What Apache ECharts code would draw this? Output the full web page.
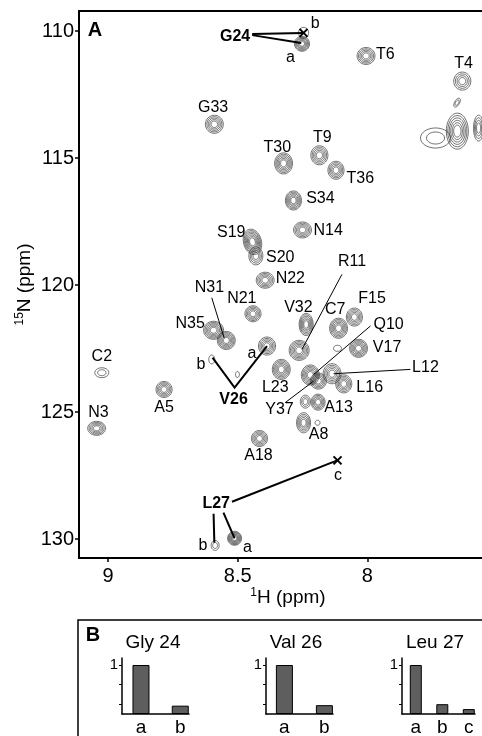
<!DOCTYPE html>
<html>
<head>
<meta charset="utf-8">
<script src="https://cdn.jsdelivr.net/npm/echarts@6/dist/echarts.min.js"></script>
<style>
html, body { margin: 0; padding: 0; background: #fff; }
#chart { width: 482px; height: 736px; }
</style>
</head>
<body>
<div id="chart"></div>
<script>
const FONT = 'Liberation Sans, Arial, Helvetica, sans-serif';

// panel A: peak centres (1H ppm, 15N ppm)
const peakH = [
  8.252, 8.246, 8.005, 7.634, 7.654, 7.653, 7.571, 7.737, 8.590, 8.323,
  8.185, 8.121, 8.285, 8.250, 8.443, 8.430, 8.394, 8.441, 8.236, 8.111,
  8.050, 8.593, 8.544, 8.387, 8.600, 8.501, 8.263, 8.034, 8.115, 8.332,
  8.220, 8.189, 8.136, 8.091, 8.190, 8.239, 8.246, 8.192, 8.416, 8.784,
  9.024, 9.044, 8.512, 8.587
];
const peakN = [
  110.50, 110.07, 110.98, 111.97, 112.82, 113.94, 113.82, 114.21, 113.67, 115.21,
  114.89, 115.48, 116.67, 117.83, 118.30, 118.85, 119.81, 121.13, 121.55, 121.70,
  121.26, 121.78, 122.18, 122.40, 122.93, 123.52, 122.57, 122.49, 122.49, 123.32,
  123.54, 123.78, 123.49, 123.89, 124.61, 124.59, 125.42, 125.42, 126.04, 124.11,
  123.45, 125.64, 129.97, 130.25
];
// number of contour levels above threshold (intensity)
const peakLevels = [
  6, 1, 5, 4, 2, 6, 4, 2, 5, 6,
  5, 5, 6, 5, 7, 4, 5, 5, 6, 6,
  5, 6, 6, 5, 1, 1, 6, 6, 1, 6,
  6, 5, 5, 5, 5, 3, 5, 1, 5, 5,
  2, 5, 7, 2
];
// outer contour widths in ppm
const peakWidthH = [
  .058, .039, .069, .066, .019, .085, .039, .116, .069, .069,
  .066, .062, .062, .069, .069, .054, .069, .062, .054, .069,
  .062, .077, .069, .066, .023, .015, .077, .069, .031, .069,
  .069, .062, .069, .062, .054, .039, .054, .019, .062, .062,
  .054, .069, .054, .031
];
const peakWidthN = [
  .59, .43, .67, .71, .39, 1.42, 1.02, .79, .71, .83,
  .75, .71, .75, .63, 1.02, .71, .63, .63, .87, .79,
  .71, .71, .71, .71, .35, .24, .79, .71, .24, .79,
  .79, .63, .79, .71, .63, .51, .79, .20, .63, .63,
  .39, .55, .55, .39
];
const peakTilt = [
  0, 0, 0, 0, 30, 0, 0, 0, 0, 0,
  0, 0, 0, 0, -15, 0, 0, 0, 0, 0,
  0, 0, 0, 0, 0, 0, 0, 0, 0, 0,
  0, 0, 0, 0, 0, 0, 0, 0, 0, 0,
  0, 0, 0, 0
];

const peakLabels = [
  ['T6', 7.931, 110.91], ['T4', 7.629, 111.30], ['G33', 8.595, 113.03], ['T30', 8.347, 114.57],
  ['T9', 8.174, 114.21], ['T36', 8.027, 115.79], ['S34', 8.181, 116.61], ['N14', 8.151, 117.87],
  ['S19', 8.525, 117.95], ['S20', 8.336, 118.93], ['N22', 8.297, 119.76], ['R11', 8.059, 119.06],
  ['N31', 8.609, 120.08], ['N21', 8.484, 120.55], ['V32', 8.266, 120.87], ['C7', 8.124, 120.98],
  ['F15', 7.982, 120.55], ['Q10', 7.918, 121.55], ['N35', 8.683, 121.52], ['V17', 7.924, 122.47],
  ['C2', 9.024, 122.83], ['L12', 7.776, 123.26], ['L23', 8.355, 124.02], ['L16', 7.991, 124.02],
  ['A5', 8.784, 124.83], ['Y37', 8.339, 124.89], ['A13', 8.111, 124.83], ['N3', 9.037, 125.03],
  ['A8', 8.188, 125.88], ['A18', 8.420, 126.73],
  ['a', 8.297, 111.06], ['b', 8.201, 109.69], ['a', 8.445, 122.70], ['b', 8.642, 123.12],
  ['c', 8.113, 127.52], ['a', 8.462, 130.34], ['b', 8.634, 130.25]
];
const boldLabels = [['G24', 8.510, 110.20], ['V26', 8.516, 124.50], ['L27', 8.583, 128.59]];

const thinLeaders = [
  [[8.600, 120.50], [8.552, 122.09]],
  [[8.098, 119.58], [8.252, 122.53]],
  [[7.988, 121.61], [8.207, 123.52]],
  [[7.834, 123.32], [8.130, 123.49]],
  [[8.317, 124.63], [8.207, 123.78]]
];
const boldLeaders = [
  [[8.444, 110.12], [8.247, 110.08]],
  [[8.444, 110.16], [8.255, 110.47]],
  [[8.597, 122.86], [8.512, 124.04], [8.387, 122.40]],
  [[8.522, 128.53], [8.116, 126.90]],
  [[8.555, 128.96], [8.512, 129.97]],
  [[8.593, 129.00], [8.590, 130.14]]
];
const crossMarks = [[8.246, 110.07], [8.115, 126.90]];

const hTicks = [8, 8.5, 9];
const nTicks = [110, 115, 120, 125, 130];

// panel B: relative intensities
const barCats = ['a', 'b', 'c'];
const gly24 = [1, 0.17];
const val26 = [1, 0.18];
const leu27 = [1, 0.2, 0.1];

const peakData = peakH.map((h, i) => [h, peakN[i], peakLevels[i], peakWidthH[i], peakWidthN[i], peakTilt[i]]);

function renderPeak(params, api) {
  const c = api.coord([api.value(0), api.value(1)]);
  const s = api.size([api.value(3), api.value(4)]);
  const lv = api.value(2);
  const t = api.value(5) * Math.PI / 180;
  const children = [];
  for (let k = 0; k < lv; k++) {
    const f = 1 - k * 0.8 / lv;
    const rx = s[0] / 2 * f, ry = s[1] / 2 * f;
    const pts = [];
    for (let i = 0; i < 40; i++) {
      const a = i / 40 * Math.PI * 2;
      const x = rx * Math.cos(a), y = ry * Math.sin(a);
      pts.push([c[0] + x * Math.cos(t) - y * Math.sin(t), c[1] + x * Math.sin(t) + y * Math.cos(t)]);
    }
    children.push({
      type: 'polygon',
      shape: { points: pts },
      style: { fill: 'none', stroke: '#333', lineWidth: 0.7 }
    });
  }
  return { type: 'group', children: children };
}

function miniX(idx, min, max) {
  return {
    type: 'value', gridIndex: idx, min: min, max: max,
    axisLine: { show: true, onZero: false, lineStyle: { color: '#000', width: 1.5 } },
    axisTick: { show: false },
    splitLine: { show: false },
    axisLabel: {
      customValues: barCats.map((c, i) => i + 1).filter(v => v < max),
      formatter: v => barCats[Math.round(v) - 1],
      color: '#000', fontSize: 19, fontFamily: FONT, margin: 4
    }
  };
}
function miniY(idx) {
  return {
    type: 'value', gridIndex: idx, min: 0, max: 1.143,
    axisLine: { show: true, lineStyle: { color: '#000', width: 1.5 } },
    axisTick: { customValues: [0.2, 0.6, 1], length: 3, lineStyle: { color: '#000', width: 1 } },
    axisLabel: { customValues: [1], color: '#000', fontSize: 15, fontFamily: FONT, margin: 4 },
    splitLine: { show: false }
  };
}
function miniBar(idx, values, width) {
  return {
    type: 'bar', xAxisIndex: idx, yAxisIndex: idx, barWidth: width, silent: true,
    data: values.map((v, i) => [i + 1, v]),
    itemStyle: { color: '#5e5e5e', borderColor: '#000', borderWidth: 1 }
  };
}

const labelStyle = {
  show: true, position: 'inside', formatter: '{b}', color: '#000', fontSize: 16,
  fontFamily: FONT, textBorderWidth: 0, textShadowBlur: 0, opacity: 1
};

const chart = echarts.init(document.getElementById('chart'), null, { renderer: 'canvas' });

const option = {
  animation: false,
  backgroundColor: '#fff',
  textStyle: { fontFamily: FONT },
  grid: [
    { left: 79, width: 418, top: 11, height: 547, outerBoundsMode: 'none', show: true, borderColor: '#000', borderWidth: 2, backgroundColor: 'transparent' },
    { left: 122, width: 67, top: 658, height: 56, outerBoundsMode: 'none' },
    { left: 266, width: 67, top: 658, height: 56, outerBoundsMode: 'none' },
    { left: 402, width: 73, top: 658, height: 56, outerBoundsMode: 'none' }
  ],
  xAxis: [
    {
      type: 'value', gridIndex: 0, inverse: true, min: 7.5, max: 9.112,
      name: '{s|1}H (ppm)', nameLocation: 'middle', nameGap: 29, nameMoveOverlap: false,
      nameTextStyle: { color: '#000', fontSize: 19, fontFamily: FONT, lineHeight: 22,
        rich: { s: { fontSize: 12, verticalAlign: 'top', lineHeight: 14 } } },
      axisLine: { show: true, onZero: false, lineStyle: { color: '#000', width: 2 } },
      axisTick: { customValues: hTicks, length: 4, lineStyle: { color: '#000', width: 1.5 } },
      axisLabel: { customValues: hTicks, color: '#000', fontSize: 20, fontFamily: FONT, margin: 8 },
      splitLine: { show: false }
    },
    miniX(1, 0.517, 2.222),
    miniX(2, 0.54, 2.215),
    miniX(3, 0.479, 3.234)
  ],
  yAxis: [
    {
      type: 'value', gridIndex: 0, inverse: true, min: 109.21, max: 130.745,
      name: '{s|15}N (ppm)', nameLocation: 'middle', nameGap: 43, nameRotate: 90, nameMoveOverlap: false,
      nameTextStyle: { color: '#000', fontSize: 19, fontFamily: FONT, lineHeight: 22,
        rich: { s: { fontSize: 12, verticalAlign: 'top', lineHeight: 14 } } },
      axisLine: { show: true, onZero: false, lineStyle: { color: '#000', width: 2 } },
      axisTick: { customValues: nTicks, length: 4, lineStyle: { color: '#000', width: 1.5 } },
      axisLabel: { customValues: nTicks, color: '#000', fontSize: 20, fontFamily: FONT, margin: 5 },
      splitLine: { show: false }
    },
    miniY(1), miniY(2), miniY(3)
  ],
  graphic: [
    { type: 'text', x: 95, y: 30, style: { text: 'A', font: 'bold 20px ' + FONT, fill: '#000', align: 'center', verticalAlign: 'middle', textAlign: 'center', textVerticalAlign: 'middle' } },
    { type: 'rect', shape: { x: 78, y: 620, width: 440, height: 140 }, style: { fill: 'none', stroke: '#000', lineWidth: 1.5 } },
    { type: 'text', x: 93, y: 635, style: { text: 'B', font: 'bold 20px ' + FONT, fill: '#000', align: 'center', verticalAlign: 'middle', textAlign: 'center', textVerticalAlign: 'middle' } },
    { type: 'text', x: 153, y: 643, style: { text: 'Gly 24', font: '19px ' + FONT, fill: '#000', align: 'center', verticalAlign: 'middle', textAlign: 'center', textVerticalAlign: 'middle' } },
    { type: 'text', x: 296, y: 643, style: { text: 'Val 26', font: '19px ' + FONT, fill: '#000', align: 'center', verticalAlign: 'middle', textAlign: 'center', textVerticalAlign: 'middle' } },
    { type: 'text', x: 435, y: 643, style: { text: 'Leu 27', font: '19px ' + FONT, fill: '#000', align: 'center', verticalAlign: 'middle', textAlign: 'center', textVerticalAlign: 'middle' } }
  ],
  series: [
    {
      type: 'custom', xAxisIndex: 0, yAxisIndex: 0, renderItem: renderPeak, clip: true, silent: true,
      data: peakData
    },
    {
      type: 'lines', coordinateSystem: 'cartesian2d', xAxisIndex: 0, yAxisIndex: 0, polyline: true, silent: true,
      lineStyle: { color: '#000', width: 1, opacity: 1 },
      data: thinLeaders.map(c => ({ coords: c }))
    },
    {
      type: 'lines', coordinateSystem: 'cartesian2d', xAxisIndex: 0, yAxisIndex: 0, polyline: true, silent: true,
      lineStyle: { color: '#000', width: 2, opacity: 1 },
      data: boldLeaders.map(c => ({ coords: c }))
    },
    {
      type: 'scatter', xAxisIndex: 0, yAxisIndex: 0, silent: true,
      symbol: 'path://M0,0L10,10M10,0L0,10', symbolSize: 8,
      itemStyle: { color: 'none', borderColor: '#000', borderWidth: 2, opacity: 1 },
      data: crossMarks
    },
    {
      type: 'scatter', xAxisIndex: 0, yAxisIndex: 0, silent: true, symbolSize: 1,
      itemStyle: { color: 'rgba(255,255,255,0)' },
      label: labelStyle,
      data: peakLabels.map(l => ({ name: l[0], value: [l[1], l[2]] }))
    },
    {
      type: 'scatter', xAxisIndex: 0, yAxisIndex: 0, silent: true, symbolSize: 1,
      itemStyle: { color: 'rgba(255,255,255,0)' },
      label: Object.assign({}, labelStyle, { fontWeight: 'bold' }),
      data: boldLabels.map(l => ({ name: l[0], value: [l[1], l[2]] }))
    },
    miniBar(1, gly24, 17),
    miniBar(2, val26, 17),
    miniBar(3, leu27, 12)
  ]
};

chart.setOption(option);
</script>
</body>
</html>
